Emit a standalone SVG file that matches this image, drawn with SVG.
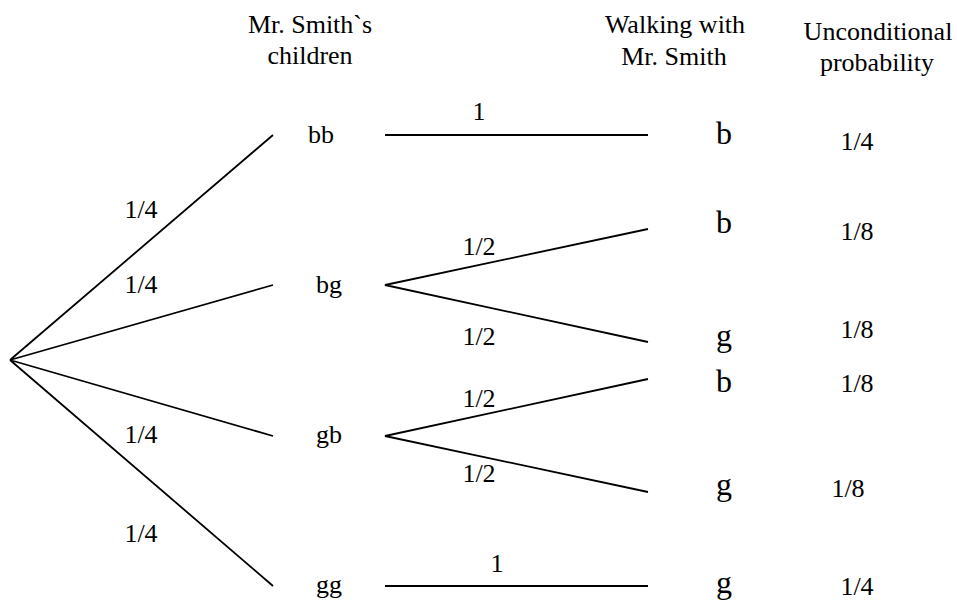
<svg xmlns="http://www.w3.org/2000/svg" width="957" height="604" viewBox="0 0 957 604">
<style>
text{font-family:"Liberation Serif","Times New Roman",serif;fill:#000;text-anchor:middle;font-size:26px}
.big{font-size:32px}
.edge{stroke:#000;stroke-width:1.8;fill:none}
</style>
<rect width="957" height="604" fill="#fff"/>
<g id="headers">
<text x="310" y="33">Mr. Smith`s</text>
<text x="310" y="64">children</text>
<text x="675" y="33">Walking with</text>
<text x="674" y="65">Mr. Smith</text>
<text x="878" y="40">Unconditional</text>
<text x="877" y="71">probability</text>
</g>
<g id="connectors">
<path class="edge" d="M10 360L273 135M10 360L273 285M10 360L273 436M10 360L273 586"/>
<path class="edge" d="M385 135H648"/>
<path class="edge" d="M648 229L385 285L648 342"/>
<path class="edge" d="M648 379L385 436L648 492"/>
<path class="edge" d="M385 586H648"/>
</g>
<g id="edge-labels">
<text x="141" y="218">1/4</text>
<text x="141" y="293">1/4</text>
<text x="141" y="443">1/4</text>
<text x="141" y="542">1/4</text>
<text x="479" y="120">1</text>
<text x="479" y="255">1/2</text>
<text x="479" y="345">1/2</text>
<text x="479" y="407">1/2</text>
<text x="479" y="482">1/2</text>
<text x="497" y="572">1</text>
</g>
<g id="node-bb"><text x="321" y="143">bb</text></g>
<g id="node-bg"><text x="329" y="293">bg</text></g>
<g id="node-gb"><text x="329" y="443">gb</text></g>
<g id="node-gg"><text x="329" y="593">gg</text></g>
<g id="leaf-1"><text class="big" x="724" y="144">b</text><text x="857" y="150">1/4</text></g>
<g id="leaf-2"><text class="big" x="724" y="233">b</text><text x="857" y="240">1/8</text></g>
<g id="leaf-3"><text class="big" x="724" y="346">g</text><text x="857" y="338">1/8</text></g>
<g id="leaf-4"><text class="big" x="724" y="392">b</text><text x="857" y="392">1/8</text></g>
<g id="leaf-5"><text class="big" x="724" y="495">g</text><text x="848" y="497">1/8</text></g>
<g id="leaf-6"><text class="big" x="724" y="593">g</text><text x="857" y="595">1/4</text></g>
</svg>
